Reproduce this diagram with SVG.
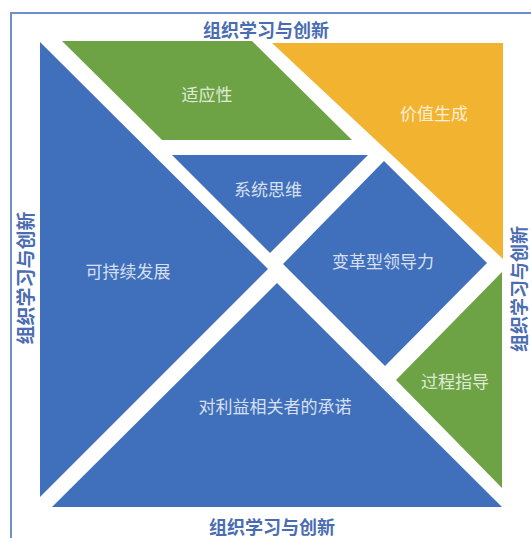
<svg xmlns="http://www.w3.org/2000/svg" width="531" height="538" viewBox="0 0 531 538">
<style>
.blue{fill:#4070bb}
.green{fill:#6ea345}
.orange{fill:#f2b331}
.in{font-family:"Noto Sans CJK SC","Noto Sans",sans-serif;font-size:17px;fill:#ffffff;fill-opacity:0.8;text-anchor:middle;dominant-baseline:central}
.out{font-family:"Noto Sans CJK SC","Noto Sans",sans-serif;font-size:18px;font-weight:bold;fill:#4a6db2;text-anchor:middle;dominant-baseline:central}
</style>
<rect x="0" y="0" width="531" height="538" fill="#ffffff"/>
<path d="M11 540 V13 H533" fill="none" stroke="#6f8fc8" stroke-width="2"/>
<g id="sustain">
<polygon class="blue" points="40,42 268,269 40,497"/>
<text class="in" x="128" y="270">可持续发展</text>
</g>
<g id="adapt">
<polygon class="green" points="62,41 252,41 352,140 162,140"/>
<text class="in" x="207" y="93">适应性</text>
</g>
<g id="value">
<polygon class="orange" points="272,43 503,43 503,259"/>
<text class="in" x="434" y="112">价值生成</text>
</g>
<g id="systems">
<polygon class="blue" points="172,155 368,155 270,253"/>
<text class="in" x="268" y="188">系统思维</text>
</g>
<g id="leadership">
<polygon class="blue" points="384,161 487,263 385,366 283,264"/>
<text class="in" x="383" y="260">变革型领导力</text>
</g>
<g id="process">
<polygon class="green" points="502,272 502,488 396,380"/>
<text class="in" x="455" y="380">过程指导</text>
</g>
<g id="stakeholder">
<polygon class="blue" points="52,507 502,507 277,283"/>
<text class="in" x="275" y="405">对利益相关者的承诺</text>
</g>
<g id="label-top"><text class="out" x="266" y="29">组织学习与创新</text></g>
<g id="label-bottom"><text class="out" x="272" y="526">组织学习与创新</text></g>
<g id="label-left"><text class="out" transform="translate(24,278) rotate(-90)" style="font-size:19px">组织学习与创新</text></g>
<g id="label-right"><text class="out" transform="translate(518,289) rotate(-90)">组织学习与创新</text></g>
<g id="connectors"></g>
</svg>
